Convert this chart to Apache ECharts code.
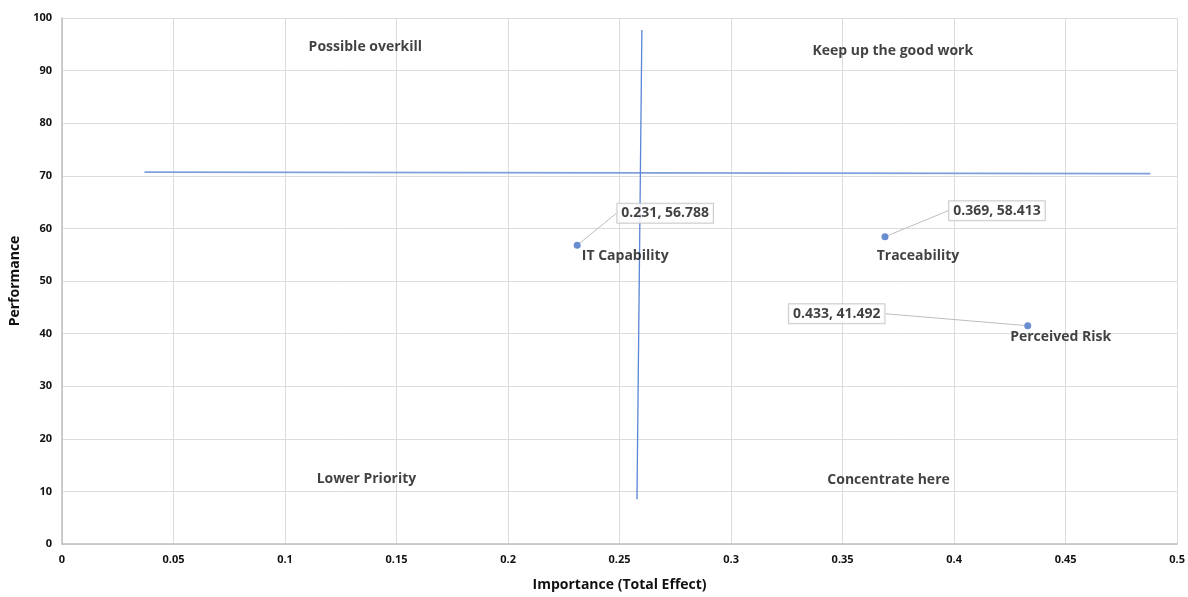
<!DOCTYPE html>
<html><head><meta charset="utf-8">
<script src="https://cdn.jsdelivr.net/npm/echarts@6/dist/echarts.min.js"></script>
<style>html,body{margin:0;padding:0;background:#fff}#c{width:1188px;height:597px}</style>
</head><body><div id="c"></div>
<script>
var names = ['IT Capability', 'Traceability', 'Perceived Risk'];
var importance = [0.231, 0.369, 0.433];
var performance = [56.788, 58.413, 41.492];
var hLine = [[0.037, 70.7], [0.488, 70.4]];
var vLine = [[0.2578, 8.5], [0.260, 97.7]];
var quadrantNames = ['Possible overkill', 'Keep up the good work', 'Lower Priority', 'Concentrate here'];
var quadrantPos = [[0.136, 94.4], [0.3725, 93.8], [0.1365, 12.3], [0.3706, 12.1]];
var xTicks = [0, 0.05, 0.1, 0.15, 0.2, 0.25, 0.3, 0.35, 0.4, 0.45, 0.5];
var yTicks = [0, 10, 20, 30, 40, 50, 60, 70, 80, 90, 100];

var FONT = 'Open Sans';
var FS = 14;
var valueLabelShift = [[88, -32], [112, -26], [-191, -12]];
var nameLabelShift = [[48, 11], [33, 19], [33, 11]];

var pts = names.map(function (n, i) {
  return { name: n, value: [importance[i], performance[i]] };
});
var namePts = names.map(function (n, i) {
  return { name: n, value: [importance[i], performance[i]],
    label: { offset: nameLabelShift[i] } };
});
var quad = quadrantNames.map(function (n, i) {
  return { name: n, value: quadrantPos[i] };
});

var chart = echarts.init(document.getElementById('c'));
chart.setOption({
  animation: false,
  grid: { left: 62, right: 9, top: 18, bottom: 50, containLabel: false },
  xAxis: {
    type: 'value', min: 0, max: 0.5, interval: 0.05,
    name: 'Importance (Total Effect)', nameLocation: 'middle', nameGap: 34,
    nameTextStyle: { fontFamily: FONT, fontWeight: 'bold', fontSize: FS, color: '#111' },
    axisLine: { show: true, lineStyle: { color: '#bfbfbf', width: 1.5 } },
    axisTick: { show: false },
    splitLine: { show: true, lineStyle: { color: '#dcdcdc', width: 1 } },
    axisLabel: { fontFamily: FONT, fontWeight: 'bold', fontSize: 11, color: '#111', margin: 10,
      formatter: function (v) { return String(parseFloat(v.toFixed(2))); } }
  },
  yAxis: {
    type: 'value', min: 0, max: 100, interval: 10,
    name: 'Performance', nameLocation: 'middle', nameGap: 38, nameRotate: 90,
    nameTextStyle: { fontFamily: FONT, fontWeight: 'bold', fontSize: FS, color: '#111' },
    axisLine: { show: true, lineStyle: { color: '#bfbfbf', width: 1.5 } },
    axisTick: { show: false },
    splitLine: { show: true, lineStyle: { color: '#dcdcdc', width: 1 } },
    axisLabel: { fontFamily: FONT, fontWeight: 'bold', fontSize: 11, color: '#111', margin: 10 }
  },
  series: [
    { type: 'line', data: hLine, symbol: 'none', silent: true,
      lineStyle: { color: '#7f9fdc', width: 1.8 }, z: 2 },
    { type: 'line', data: vLine, symbol: 'none', silent: true,
      lineStyle: { color: '#5b85d6', width: 1.3 }, z: 2 },
    { type: 'scatter', data: quad, symbolSize: 0, silent: true,
      label: { show: true, position: 'inside', formatter: '{b}',
        fontFamily: FONT, fontWeight: 'bold', fontSize: FS, color: '#111' } },
    { type: 'scatter', data: namePts, symbolSize: 0, silent: true,
      label: { show: true, position: 'inside', formatter: '{b}',
        fontFamily: FONT, fontWeight: 'bold', fontSize: FS, color: '#111' } },
    { type: 'scatter', data: pts, symbolSize: 7, z: 5,
      itemStyle: { color: '#4472c4' },
      label: { show: true, position: 'inside',
        formatter: function (p) { return p.value[0].toFixed(3) + ', ' + p.value[1].toFixed(3); },
        fontFamily: FONT, fontWeight: 'bold', fontSize: FS, color: '#111',
        backgroundColor: '#fff', borderColor: '#bfbfbf', borderWidth: 1, padding: [3, 4, 2, 4] },
      labelLine: { show: true, lineStyle: { color: '#bdbdbd', width: 1 } },
      labelLayout: function (p) {
        var s = valueLabelShift[p.dataIndex];
        return { dx: s[0], dy: s[1] };
      }
    }
  ]
});
</script></body></html>
